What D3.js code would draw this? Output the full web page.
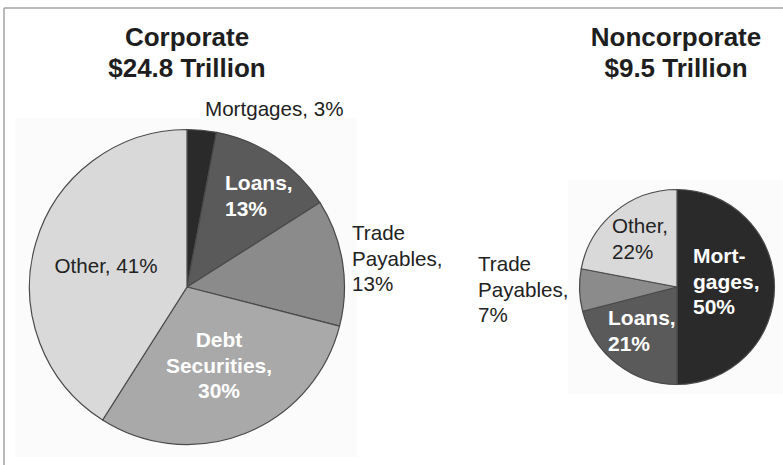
<!DOCTYPE html>
<html>
<head>
<meta charset="utf-8">
<script src="https://cdn.jsdelivr.net/npm/d3@7"></script>
<style>
  html, body { margin: 0; padding: 0; background: #fff; }
  svg { display: block; font-family: "Liberation Sans", Arial, Helvetica, sans-serif; }
</style>
</head>
<body>
<svg id="chart" width="783" height="465"></svg>
<script>
// Debt composition by sector, percent of total
const sectors = ["Corporate", "Noncorporate"];
const sectorTotals = [24.8, 9.5]; // $ trillion
const corporateCategories = ["Mortgages", "Loans", "Trade Payables", "Debt Securities", "Other"];
const corporateValues = [3, 13, 13, 30, 41];
const noncorporateCategories = ["Mortgages", "Loans", "Trade Payables", "Other"];
const noncorporateValues = [50, 21, 7, 22];

const svg = d3.select("#chart");
const W = 783, H = 465;

// Outer frame (top and left rules)
svg.append("line").attr("x1", 4).attr("y1", 8).attr("x2", W).attr("y2", 8)
  .attr("stroke", "#a3a3a3").attr("stroke-width", 1.5);
svg.append("line").attr("x1", 4).attr("y1", 8).attr("x2", 4).attr("y2", H)
  .attr("stroke", "#a3a3a3").attr("stroke-width", 1.5);

// Pie area scales with the sector total
const radius = d3.scaleSqrt().domain([0, 24.8]).range([0, 157.5]);

const shade = {
  "Mortgages": "#2a2a2a",
  "Loans": "#5a5a5a",
  "Trade Payables": "#8b8b8b",
  "Debt Securities": "#a9a9a9",
  "Other": "#d9d9d9"
};

// Label placement for each panel (text lines use the slice value)
const panels = [
  {
    cx: 187, cy: 287, titleX: 187, backdrop: [15, 118, 342, 339],
    categories: corporateCategories, values: corporateValues,
    labels: {
      "Mortgages":       { x: 205, y: 116, anchor: "start", bold: false, lines: v => [`Mortgages, ${v}%`] },
      "Loans":           { x: 225, y: 190, anchor: "start", bold: true,  lines: v => ["Loans,", `${v}%`] },
      "Trade Payables":  { x: 352, y: 240, anchor: "start", bold: false, lines: v => ["Trade", "Payables,", `${v}%`] },
      "Debt Securities": { x: 219, y: 347, anchor: "middle", bold: true, lines: v => ["Debt", "Securities,", `${v}%`] },
      "Other":           { x: 106, y: 273, anchor: "middle", bold: false, lines: v => [`Other, ${v}%`] }
    }
  },
  {
    cx: 677, cy: 287, titleX: 676, backdrop: [568, 180, 215, 214],
    categories: noncorporateCategories, values: noncorporateValues,
    labels: {
      "Mortgages":      { x: 693, y: 263, anchor: "start", bold: true,  lines: v => ["Mort-", "gages,", `${v}%`] },
      "Loans":          { x: 608, y: 325, anchor: "start", bold: true,  lines: v => ["Loans,", `${v}%`] },
      "Trade Payables": { x: 478, y: 271, anchor: "start", bold: false, lines: v => ["Trade", "Payables,", `${v}%`] },
      "Other":          { x: 612, y: 233, anchor: "start", bold: false, lines: v => ["Other,", `${v}%`] }
    }
  }
];

const pie = d3.pie().sort(null).value(d => d.value);

panels.forEach((p, i) => {
  const r = radius(sectorTotals[i]);
  const data = p.categories.map((c, k) => ({ name: c, value: p.values[k] }));

  // faint backdrop panel behind each pie
  svg.append("rect")
    .attr("x", p.backdrop[0]).attr("y", p.backdrop[1])
    .attr("width", p.backdrop[2]).attr("height", p.backdrop[3])
    .attr("fill", "#fbfbfb");

  // title
  const title = svg.append("text")
    .attr("x", p.titleX).attr("text-anchor", "middle")
    .attr("font-weight", "bold").attr("font-size", 26).attr("fill", "#1e1e1e");
  title.append("tspan").attr("x", p.titleX).attr("y", 46).text(sectors[i]);
  title.append("tspan").attr("x", p.titleX).attr("y", 77).text(`$${sectorTotals[i]} Trillion`);

  const g = svg.append("g").attr("transform", `translate(${p.cx},${p.cy})`);
  const arc = d3.arc().innerRadius(0).outerRadius(r);

  g.selectAll("path")
    .data(pie(data))
    .join("path")
    .attr("d", arc)
    .attr("fill", d => shade[d.data.name])
    .attr("stroke", "#4a4a4a")
    .attr("stroke-width", 1.2)
    .attr("stroke-linejoin", "round");

  // slice labels
  data.forEach(d => {
    const L = p.labels[d.name];
    const t = svg.append("text")
      .attr("text-anchor", L.anchor)
      .attr("font-size", L.bold ? 21 : 20.6)
      .attr("font-weight", L.bold ? "bold" : "normal")
      .attr("fill", L.bold ? "#ffffff" : "#222222");
    L.lines(d.value).forEach((line, j) => {
      t.append("tspan").attr("x", L.x).attr("y", L.y + j * 25.5).text(line);
    });
  });
});
</script>
</body>
</html>
